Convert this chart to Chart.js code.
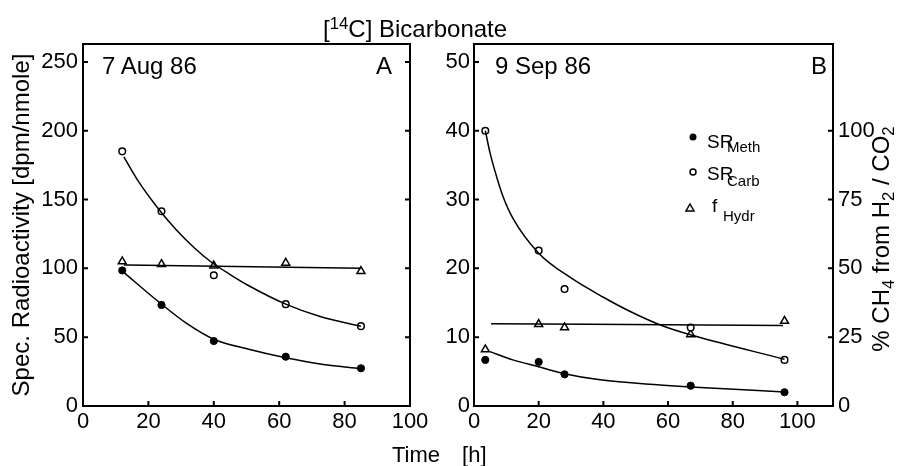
<!DOCTYPE html>
<html><head><meta charset="utf-8">
<script src="https://cdn.jsdelivr.net/npm/chart.js@4/dist/chart.umd.min.js"></script>
<style>
body{margin:0;background:#fff;}
#wrap{position:relative;width:899px;height:466px;overflow:hidden;font-family:'Liberation Sans',Arial,sans-serif;color:#000;background:#fff;}
.t{position:absolute;white-space:nowrap;line-height:1;}
canvas{position:absolute;top:0;}
sub{font-size:0.7em;vertical-align:-0.3em;line-height:0;}
sup{font-size:0.7em;vertical-align:0.45em;line-height:0;}
</style></head><body>
<div id="wrap">
<canvas id="ca" width="440" height="466" style="left:0"></canvas>
<canvas id="cb" width="459" height="466" style="left:440px"></canvas>
<div class="t" style="left:323px;top:17px;font-size:24px">[<sup>14</sup>C] Bicarbonate</div>
<div class="t" style="left:392px;top:444px;font-size:22px">Time<span style="margin-left:22px">[h]</span></div>
<div class="t" style="left:102px;top:54px;font-size:24px">7 Aug 86</div>
<div class="t" style="left:376px;top:54px;font-size:24px">A</div>
<div class="t" style="left:495px;top:54px;font-size:24px">9 Sep 86</div>
<div class="t" style="left:811px;top:54px;font-size:24px">B</div>
<div class="t" style="left:881px;top:239px;font-size:24px;transform:translate(-50%,-50%) rotate(-90deg)">% CH<sub>4</sub> from H<sub>2</sub> / CO<sub>2</sub></div>
<svg style="position:absolute;left:0;top:0" width="899" height="466">
  <circle cx="693" cy="137" r="3.5" fill="#000"/>
  <circle cx="693" cy="172" r="3" fill="#fff" stroke="#000" stroke-width="1.5"/>
  <polygon points="690,204 694,211 686,211" fill="#fff" stroke="#000" stroke-width="1.5"/>
</svg>
<div class="t" style="left:707px;top:132px;font-size:19px">SR</div>
<div class="t" style="left:727px;top:139px;font-size:15px">Meth</div>
<div class="t" style="left:707px;top:164px;font-size:19px">SR</div>
<div class="t" style="left:727px;top:173px;font-size:15px">Carb</div>
<div class="t" style="left:712px;top:196px;font-size:19px">f</div>
<div class="t" style="left:723px;top:208px;font-size:15px">Hydr</div>
</div>
<script>
// ---- Panel A (7 Aug 86) ----
const timesA = [12, 24, 40, 62, 85];
const srMethA = [98.5, 73.4, 47.2, 35.8, 27.4];
const srCarbA = [185, 141.5, 95, 74, 58];
const fHydrA = [105, 103, 102, 104, 98];
const fitCarbA_x = [12.5, 17, 22.5, 28.5, 34, 39, 45, 51, 62, 72.5, 85];
const fitCarbA_y = [181, 163, 145, 128, 115, 105, 95.5, 87, 74, 65, 58];
const fitMethA_x = [12, 24, 31.7, 40, 51, 62, 72.5, 85];
const fitMethA_y = [98, 74, 60, 48.5, 41, 35, 30.5, 27];
const fitHydrA_x = [12.5, 85];
const fitHydrA_y = [102.5, 100];

// ---- Panel B (9 Sep 86) ----
const timesB = [3.5, 20, 28, 67, 96];
const srMethB = [6.7, 6.4, 4.6, 2.95, 2.0];
const srCarbB = [40, 22.6, 17, 11.4, 6.7];
const fHydrB = [8.2, 11.9, 11.4, 10.4, 12.35];
const fitCarbB_x = [3.5, 5, 7, 9, 12, 20, 30, 40, 48, 58, 68, 96];
const fitCarbB_y = [40, 36.7, 33.3, 30.4, 27.3, 22.2, 18.6, 15.8, 13.8, 11.7, 10.2, 6.8];
const fitMethB_x = [5, 12, 20, 28, 39, 57.5, 67, 96];
const fitMethB_y = [7.9, 6.7, 5.7, 4.7, 3.8, 3.05, 2.75, 2.05];
const fitHydrB_x = [5.3, 95.5];
const fitHydrB_y = [11.95, 11.7];

// ---- Axis ticks ----
const xTicksA = [0, 20, 40, 60, 80, 100];
const yTicksA = [0, 50, 100, 150, 200, 250];
const xTicksB = [0, 20, 40, 60, 80, 100];
const yTicksB = [0, 10, 20, 30, 40, 50];
const y2TicksB = [0, 25, 50, 75, 100];

const pts = (xs, ys) => xs.map((x, i) => ({x, y: ys[i]}));
const FONT = "'Liberation Sans', Arial, sans-serif";
const tickFont = {family: FONT, size: 22};

function markers(xs, ys, style) {
  const base = {data: pts(xs, ys), showLine: false, borderColor: '#000', pointBorderColor: '#000'};
  if (style === 'filled') return Object.assign(base, {pointStyle: 'circle', pointRadius: 3.6, pointBackgroundColor: '#000', pointBorderWidth: 1});
  if (style === 'open') return Object.assign(base, {pointStyle: 'circle', pointRadius: 3.3, pointBackgroundColor: '#fff', pointBorderWidth: 1.5});
  return Object.assign(base, {pointStyle: 'triangle', pointRadius: 4.6, pointBackgroundColor: '#fff', pointBorderWidth: 1.5});
}
function fit(xs, ys) {
  return {data: pts(xs, ys), showLine: true, borderColor: '#000', borderWidth: 1.5, pointRadius: 0, cubicInterpolationMode: 'monotone', fill: false};
}
function keep(list) { return s => { s.ticks = list.map(v => ({value: v})); }; }

const framePlugin = {
  id: 'frame',
  afterDraw(chart) {
    const {ctx, chartArea: {left, right, top, bottom}} = chart;
    ctx.save();
    ctx.strokeStyle = '#000';
    ctx.lineWidth = 2;
    ctx.strokeRect(left, top, right - left, bottom - top);
    const L = 5;
    const xs = chart.scales.x, ys = chart.scales.y, y2 = chart.scales.y2;
    ctx.beginPath();
    xs.ticks.forEach(t => { if (t.value > xs.min && t.value < xs.max) { const p = xs.getPixelForValue(t.value); ctx.moveTo(p, bottom); ctx.lineTo(p, bottom - L); } });
    ys.ticks.forEach(t => { if (t.value > 0) { const p = ys.getPixelForValue(t.value); ctx.moveTo(left - 1, p); ctx.lineTo(left + L, p); if (!y2) { ctx.moveTo(right + 1, p); ctx.lineTo(right - L, p); } } });
    if (y2) y2.ticks.forEach(t => { if (t.value > 0) { const p = y2.getPixelForValue(t.value); ctx.moveTo(right + 1, p); ctx.lineTo(right - L, p); } });
    ctx.stroke();
    ctx.restore();
  }
};

const axisBase = {
  grid: {display: false, drawTicks: false},
  border: {display: false},
  ticks: {color: '#000', font: tickFont}
};

new Chart(document.getElementById('ca'), {
  type: 'scatter',
  data: {datasets: [
    fit(fitCarbA_x, fitCarbA_y), fit(fitMethA_x, fitMethA_y), fit(fitHydrA_x, fitHydrA_y),
    markers(timesA, srMethA, 'filled'), markers(timesA, srCarbA, 'open'), markers(timesA, fHydrA, 'tri')
  ]},
  options: {
    responsive: false, animation: false,
    layout: {padding: {top: 44, right: 30, left: 0, bottom: 0}},
    plugins: {legend: {display: false}, tooltip: {enabled: false}},
    scales: {
      x: Object.assign({}, axisBase, {type: 'linear', position: 'bottom', min: 0, max: 100,
        ticks: Object.assign({}, axisBase.ticks, {padding: 3}), afterBuildTicks: keep(xTicksA),
        afterFit: s => { s.height = 60; }}),
      y: Object.assign({}, axisBase, {type: 'linear', position: 'left', min: 0, max: 263,
        ticks: Object.assign({}, axisBase.ticks, {padding: 5}), afterBuildTicks: keep(yTicksA),
        afterFit: s => { s.width = 83; },
        title: {display: true, text: 'Spec. Radioactivity [dpm/nmole]', color: '#000', font: {family: FONT, size: 24}, padding: {top: 8, bottom: 0}}})
    }
  },
  plugins: [framePlugin]
});

new Chart(document.getElementById('cb'), {
  type: 'scatter',
  data: {datasets: [
    fit(fitCarbB_x, fitCarbB_y), fit(fitMethB_x, fitMethB_y), fit(fitHydrB_x, fitHydrB_y),
    markers(timesB, srMethB, 'filled'), markers(timesB, srCarbB, 'open'), markers(timesB, fHydrB, 'tri')
  ]},
  options: {
    responsive: false, animation: false,
    layout: {padding: {top: 44, right: 0, left: 0, bottom: 0}},
    plugins: {legend: {display: false}, tooltip: {enabled: false}},
    scales: {
      x: Object.assign({}, axisBase, {type: 'linear', position: 'bottom', min: 0, max: 111,
        ticks: Object.assign({}, axisBase.ticks, {padding: 3}), afterBuildTicks: keep(xTicksB),
        afterFit: s => { s.height = 60; }}),
      y: Object.assign({}, axisBase, {type: 'linear', position: 'left', min: 0, max: 52.6,
        ticks: Object.assign({}, axisBase.ticks, {padding: 4}), afterBuildTicks: keep(yTicksB),
        afterFit: s => { s.width = 34; }}),
      y2: Object.assign({}, axisBase, {type: 'linear', position: 'right', min: 0, max: 131.5,
        ticks: Object.assign({}, axisBase.ticks, {padding: 5}), afterBuildTicks: keep(y2TicksB),
        afterFit: s => { s.width = 66; }})
    }
  },
  plugins: [framePlugin]
});
</script>
</body></html>
